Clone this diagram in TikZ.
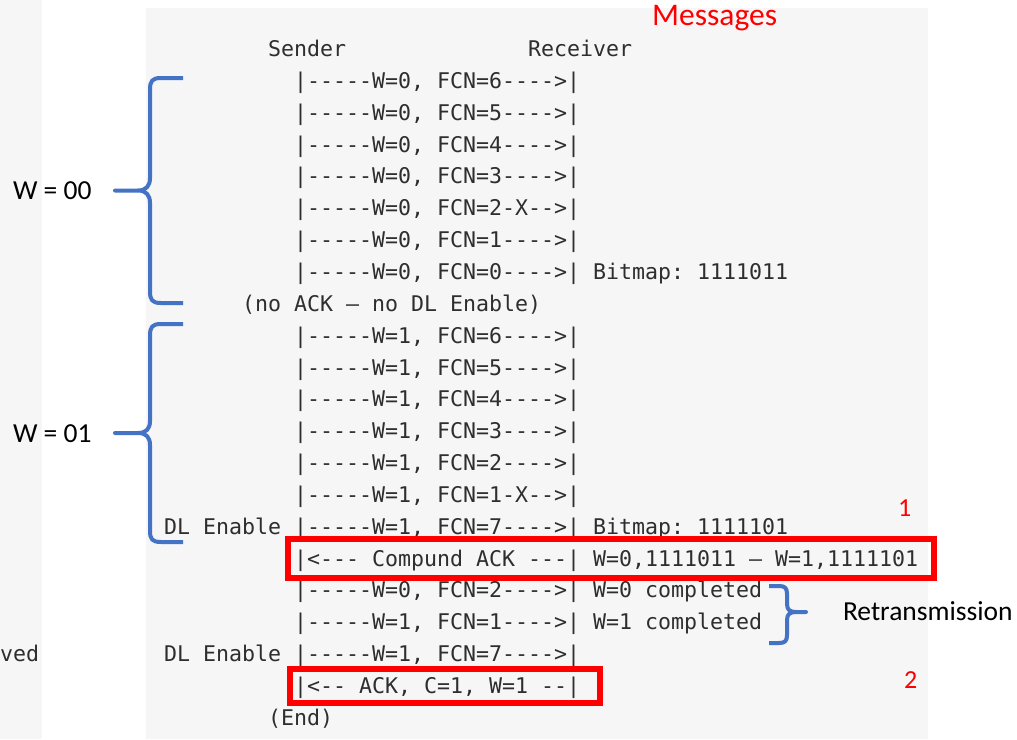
\documentclass[tikz,border=0pt]{standalone}
\usepackage{fontspec}
\setmonofont{DejaVu Sans Mono}
\newfontfamily\calib{Carlito}
\definecolor{panel}{HTML}{F6F6F6}
\definecolor{txt}{HTML}{2E2E2E}
\definecolor{bracecol}{HTML}{4472C4}
\definecolor{redc}{HTML}{FF0000}
\tikzset{
  mono/.style={anchor=base west,inner sep=0pt,outer sep=0pt,text=txt,font=\ttfamily\fontsize{21.6pt}{21.6pt}\selectfont},
  lbl/.style={anchor=base west,inner sep=0pt,outer sep=0pt,text=black,font=\calib\fontsize{27.5pt}{27.5pt}\selectfont},
  rlbl/.style={anchor=base west,inner sep=0pt,outer sep=0pt,text=redc,font=\calib\fontsize{26pt}{26pt}\selectfont},
  bracepath/.style={draw=bracecol,line width=4pt,line join=round,line cap=butt},
  redbox/.style={draw=redc,line width=6pt}
}
\begin{document}
\begin{tikzpicture}[x=1pt,y=-1pt]
\useasboundingbox (0,0) rectangle (1017,739);
% backgrounds
\fill[panel] (0,0) rectangle (42,739);
\fill[panel] (146,8) rectangle (928,739);
% title
\node[anchor=base west,inner sep=0pt,text=redc,font=\calib\fontsize{31.5pt}{31.5pt}\selectfont] (msg) at (652,25) {Messages};
% rows
\node[mono] (snd) at (268,56.5) {Sender};
\node[mono] (rcv) at (528,56.5) {Receiver};
\node[mono] (r1) at (294,88.35) {|-----W=0, FCN=6---->|};
\node[mono] (r2) at (294,120.2) {|-----W=0, FCN=5---->|};
\node[mono] (r3) at (294,152.05) {|-----W=0, FCN=4---->|};
\node[mono] (r4) at (294,183.9) {|-----W=0, FCN=3---->|};
\node[mono] (r5) at (294,215.75) {|-----W=0, FCN=2-X-->|};
\node[mono] (r6) at (294,247.6) {|-----W=0, FCN=1---->|};
\node[mono] (r7) at (294,279.45) {|-----W=0, FCN=0---->| Bitmap: 1111011};
\node[mono] (r8) at (242,311.3) {(no ACK – no DL Enable)};
\node[mono] (r9) at (294,343.15) {|-----W=1, FCN=6---->|};
\node[mono] (r10) at (294,375.0) {|-----W=1, FCN=5---->|};
\node[mono] (r11) at (294,406.85) {|-----W=1, FCN=4---->|};
\node[mono] (r12) at (294,438.7) {|-----W=1, FCN=3---->|};
\node[mono] (r13) at (294,470.55) {|-----W=1, FCN=2---->|};
\node[mono] (r14) at (294,502.4) {|-----W=1, FCN=1-X-->|};
\node[mono] (dl1) at (164,534.25) {DL Enable};
\node[mono] (r15) at (294,534.25) {|-----W=1, FCN=7---->| Bitmap: 1111101};
\node[mono] (r16) at (294,566.1) {|<--- Compund ACK ---| W=0,1111011 – W=1,1111101};
\node[mono] (r17) at (294,597.95) {|-----W=0, FCN=2---->| W=0 completed};
\node[mono] (r18) at (294,629.8) {|-----W=1, FCN=1---->| W=1 completed};
\node[mono] (dl2) at (164,661.65) {DL Enable};
\node[mono] (r19) at (294,661.65) {|-----W=1, FCN=7---->|};
\node[mono] (r20) at (294,693.5) {|<-- ACK, C=1, W=1 --|};
\node[mono] (r21) at (268,725.35) {(End)};
\node[mono] (ved) at (0,661.65) {ved};
% red boxes
\draw[redbox] (288,539) rectangle (934,578);
\draw[redbox] (290,669) rectangle (600,703);
\node[rlbl] (one) at (898,516) {1};
\node[rlbl] (two) at (904,688.5) {2};
% braces
\draw[bracepath] (183,78) -- (161,78) .. controls (152,78) and (150,81) .. (150,90) -- (150,178)
  .. controls (150,186) and (146,190.5) .. (138,190.5) -- (115,190.5) -- (138,190.5)
  .. controls (146,190.5) and (150,195) .. (150,203) -- (150,291) .. controls (150,300) and (152,303) .. (161,303) -- (183,303);
\draw[bracepath] (183,324) -- (161,324) .. controls (152,324) and (150,327) .. (150,336) -- (150,421)
  .. controls (150,429) and (146,433) .. (138,433) -- (115,433) -- (138,433)
  .. controls (146,433) and (150,437) .. (150,445) -- (150,531) .. controls (150,539) and (152,542) .. (161,542) -- (183,542);
\draw[bracepath] (769,586) -- (779,586) .. controls (785,586) and (787,588) .. (787,594) -- (787,604)
  .. controls (787,610) and (790,612) .. (796,612) -- (806,612) -- (796,612)
  .. controls (790,612) and (787,614) .. (787,620) -- (787,635) .. controls (787,641) and (785,643) .. (779,643) -- (769,643);
% labels
\node[lbl] (w0) at (13,199.3) {W = 00};
\node[lbl] (w1) at (13,442) {W = 01};
\node[lbl] (retx) at (843,620) {Retransmission};
\end{tikzpicture}
\end{document}
